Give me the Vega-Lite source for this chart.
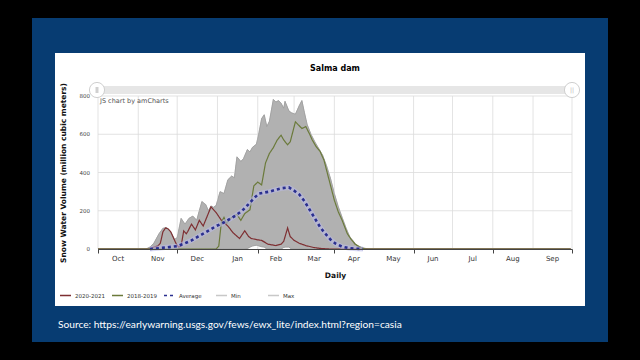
{
  "$schema": "https://vega.github.io/schema/vega-lite/v6.json",
  "width": 474,
  "height": 153,
  "autosize": {"type": "none"},
  "padding": {"left": 98, "top": 96, "right": 68, "bottom": 111},
  "background": "#000000",
  "title": {"text": "Salma dam", "fontSize": 8, "font": "DejaVu Sans", "fontWeight": "bold", "color": "#000000", "offset": -55, "anchor": "middle"},
  "config": {
    "view": {"stroke": null},
    "font": "DejaVu Sans",
    "legend": {
      "orient": "none", "legendX": -39, "legendY": 193, "direction": "horizontal",
      "symbolType": "stroke", "symbolSize": 121, "symbolStrokeWidth": 1.6,
      "labelFontSize": 5.5, "labelFont": "DejaVu Sans", "labelColor": "#333333",
      "gridAlign": "all", "columnPadding": 3, "labelOffset": 3
    }
  },
  "datasets": {
    "band": [
      {"date": "2020-10-01", "min": 0, "max": 0},
      {"date": "2020-11-07", "min": 0, "max": 0},
      {"date": "2020-11-10", "min": 0, "max": 10},
      {"date": "2020-11-13", "min": 0, "max": 30},
      {"date": "2020-11-17", "min": 0, "max": 80},
      {"date": "2020-11-20", "min": 0, "max": 108},
      {"date": "2020-11-23", "min": 0, "max": 112},
      {"date": "2020-11-26", "min": 0, "max": 90},
      {"date": "2020-11-29", "min": 0, "max": 50},
      {"date": "2020-12-01", "min": 0, "max": 60},
      {"date": "2020-12-04", "min": 0, "max": 160},
      {"date": "2020-12-07", "min": 0, "max": 130},
      {"date": "2020-12-10", "min": 0, "max": 160},
      {"date": "2020-12-13", "min": 0, "max": 172},
      {"date": "2020-12-16", "min": 0, "max": 150},
      {"date": "2020-12-18", "min": 0, "max": 200},
      {"date": "2020-12-20", "min": 0, "max": 248},
      {"date": "2020-12-23", "min": 0, "max": 232},
      {"date": "2020-12-25", "min": 0, "max": 200},
      {"date": "2020-12-27", "min": 0, "max": 225},
      {"date": "2020-12-29", "min": 0, "max": 218},
      {"date": "2020-12-31", "min": 0, "max": 228},
      {"date": "2021-01-03", "min": 0, "max": 300},
      {"date": "2021-01-06", "min": 0, "max": 290},
      {"date": "2021-01-09", "min": 0, "max": 362},
      {"date": "2021-01-12", "min": 0, "max": 382},
      {"date": "2021-01-14", "min": 0, "max": 372},
      {"date": "2021-01-16", "min": 0, "max": 482},
      {"date": "2021-01-19", "min": 0, "max": 458},
      {"date": "2021-01-21", "min": 0, "max": 472},
      {"date": "2021-01-24", "min": 2, "max": 520},
      {"date": "2021-01-26", "min": 10, "max": 508},
      {"date": "2021-01-28", "min": 16, "max": 532},
      {"date": "2021-01-31", "min": 20, "max": 548},
      {"date": "2021-02-02", "min": 16, "max": 610},
      {"date": "2021-02-04", "min": 12, "max": 682},
      {"date": "2021-02-06", "min": 10, "max": 702},
      {"date": "2021-02-08", "min": 0, "max": 640},
      {"date": "2021-02-10", "min": 0, "max": 668},
      {"date": "2021-02-13", "min": 0, "max": 782},
      {"date": "2021-02-15", "min": 0, "max": 768},
      {"date": "2021-02-17", "min": 0, "max": 776},
      {"date": "2021-02-19", "min": 0, "max": 762},
      {"date": "2021-02-21", "min": 8, "max": 736},
      {"date": "2021-02-22", "min": 10, "max": 772},
      {"date": "2021-02-25", "min": 10, "max": 722},
      {"date": "2021-02-27", "min": 0, "max": 712},
      {"date": "2021-03-02", "min": 0, "max": 705},
      {"date": "2021-03-05", "min": 0, "max": 750},
      {"date": "2021-03-07", "min": 0, "max": 776},
      {"date": "2021-03-09", "min": 0, "max": 712},
      {"date": "2021-03-11", "min": 0, "max": 652},
      {"date": "2021-03-14", "min": 0, "max": 600},
      {"date": "2021-03-17", "min": 0, "max": 560},
      {"date": "2021-03-20", "min": 0, "max": 525},
      {"date": "2021-03-23", "min": 0, "max": 490},
      {"date": "2021-03-26", "min": 0, "max": 435},
      {"date": "2021-03-29", "min": 0, "max": 370},
      {"date": "2021-04-01", "min": 0, "max": 290},
      {"date": "2021-04-04", "min": 0, "max": 222},
      {"date": "2021-04-07", "min": 0, "max": 165},
      {"date": "2021-04-10", "min": 0, "max": 110},
      {"date": "2021-04-13", "min": 0, "max": 62},
      {"date": "2021-04-16", "min": 0, "max": 38},
      {"date": "2021-04-19", "min": 0, "max": 15},
      {"date": "2021-04-23", "min": 0, "max": 6},
      {"date": "2021-04-27", "min": 0, "max": 0},
      {"date": "2021-09-30", "min": 0, "max": 0}
    ],
    "series": [
      {"series": "2020-2021", "date": "2020-10-01", "swe": 0},
      {"series": "2020-2021", "date": "2020-11-10", "swe": 0},
      {"series": "2020-2021", "date": "2020-11-13", "swe": 10},
      {"series": "2020-2021", "date": "2020-11-16", "swe": 15},
      {"series": "2020-2021", "date": "2020-11-18", "swe": 30},
      {"series": "2020-2021", "date": "2020-11-20", "swe": 90},
      {"series": "2020-2021", "date": "2020-11-22", "swe": 110},
      {"series": "2020-2021", "date": "2020-11-24", "swe": 105},
      {"series": "2020-2021", "date": "2020-11-26", "swe": 90},
      {"series": "2020-2021", "date": "2020-11-28", "swe": 60},
      {"series": "2020-2021", "date": "2020-11-30", "swe": 30},
      {"series": "2020-2021", "date": "2020-12-02", "swe": 10},
      {"series": "2020-2021", "date": "2020-12-04", "swe": 15},
      {"series": "2020-2021", "date": "2020-12-06", "swe": 95},
      {"series": "2020-2021", "date": "2020-12-08", "swe": 80},
      {"series": "2020-2021", "date": "2020-12-09", "swe": 90},
      {"series": "2020-2021", "date": "2020-12-12", "swe": 130},
      {"series": "2020-2021", "date": "2020-12-15", "swe": 100},
      {"series": "2020-2021", "date": "2020-12-18", "swe": 150},
      {"series": "2020-2021", "date": "2020-12-21", "swe": 120},
      {"series": "2020-2021", "date": "2020-12-24", "swe": 170},
      {"series": "2020-2021", "date": "2020-12-27", "swe": 220},
      {"series": "2020-2021", "date": "2020-12-31", "swe": 190},
      {"series": "2020-2021", "date": "2021-01-04", "swe": 150},
      {"series": "2020-2021", "date": "2021-01-09", "swe": 120},
      {"series": "2020-2021", "date": "2021-01-13", "swe": 85},
      {"series": "2020-2021", "date": "2021-01-18", "swe": 55},
      {"series": "2020-2021", "date": "2021-01-22", "swe": 95},
      {"series": "2020-2021", "date": "2021-01-25", "swe": 65},
      {"series": "2020-2021", "date": "2021-01-27", "swe": 55},
      {"series": "2020-2021", "date": "2021-02-01", "swe": 48},
      {"series": "2020-2021", "date": "2021-02-04", "swe": 45},
      {"series": "2020-2021", "date": "2021-02-09", "swe": 25},
      {"series": "2020-2021", "date": "2021-02-15", "swe": 18},
      {"series": "2020-2021", "date": "2021-02-19", "swe": 25},
      {"series": "2020-2021", "date": "2021-02-21", "swe": 40},
      {"series": "2020-2021", "date": "2021-02-24", "swe": 110},
      {"series": "2020-2021", "date": "2021-02-26", "swe": 65},
      {"series": "2020-2021", "date": "2021-03-01", "swe": 45},
      {"series": "2020-2021", "date": "2021-03-05", "swe": 30},
      {"series": "2020-2021", "date": "2021-03-10", "swe": 18},
      {"series": "2020-2021", "date": "2021-03-16", "swe": 8},
      {"series": "2020-2021", "date": "2021-03-21", "swe": 3},
      {"series": "2020-2021", "date": "2021-03-28", "swe": 0},
      {"series": "2020-2021", "date": "2021-09-30", "swe": 0},
      {"series": "2018-2019", "date": "2020-10-01", "swe": 0},
      {"series": "2018-2019", "date": "2020-12-31", "swe": 0},
      {"series": "2018-2019", "date": "2021-01-02", "swe": 15},
      {"series": "2018-2019", "date": "2021-01-04", "swe": 140},
      {"series": "2018-2019", "date": "2021-01-06", "swe": 165},
      {"series": "2018-2019", "date": "2021-01-08", "swe": 135},
      {"series": "2018-2019", "date": "2021-01-11", "swe": 160},
      {"series": "2018-2019", "date": "2021-01-14", "swe": 175},
      {"series": "2018-2019", "date": "2021-01-16", "swe": 180},
      {"series": "2018-2019", "date": "2021-01-19", "swe": 150},
      {"series": "2018-2019", "date": "2021-01-22", "swe": 185},
      {"series": "2018-2019", "date": "2021-01-26", "swe": 205},
      {"series": "2018-2019", "date": "2021-01-29", "swe": 330},
      {"series": "2018-2019", "date": "2021-02-01", "swe": 350},
      {"series": "2018-2019", "date": "2021-02-04", "swe": 335},
      {"series": "2018-2019", "date": "2021-02-07", "swe": 450},
      {"series": "2018-2019", "date": "2021-02-10", "swe": 500},
      {"series": "2018-2019", "date": "2021-02-13", "swe": 530},
      {"series": "2018-2019", "date": "2021-02-16", "swe": 570},
      {"series": "2018-2019", "date": "2021-02-19", "swe": 595},
      {"series": "2018-2019", "date": "2021-02-21", "swe": 570},
      {"series": "2018-2019", "date": "2021-02-24", "swe": 545},
      {"series": "2018-2019", "date": "2021-02-26", "swe": 560},
      {"series": "2018-2019", "date": "2021-03-02", "swe": 665},
      {"series": "2018-2019", "date": "2021-03-07", "swe": 630},
      {"series": "2018-2019", "date": "2021-03-10", "swe": 640},
      {"series": "2018-2019", "date": "2021-03-13", "swe": 600},
      {"series": "2018-2019", "date": "2021-03-15", "swe": 570},
      {"series": "2018-2019", "date": "2021-03-18", "swe": 535},
      {"series": "2018-2019", "date": "2021-03-21", "swe": 510},
      {"series": "2018-2019", "date": "2021-03-24", "swe": 465},
      {"series": "2018-2019", "date": "2021-03-28", "swe": 360},
      {"series": "2018-2019", "date": "2021-04-01", "swe": 255},
      {"series": "2018-2019", "date": "2021-04-04", "swe": 195},
      {"series": "2018-2019", "date": "2021-04-07", "swe": 150},
      {"series": "2018-2019", "date": "2021-04-11", "swe": 80},
      {"series": "2018-2019", "date": "2021-04-14", "swe": 50},
      {"series": "2018-2019", "date": "2021-04-17", "swe": 25},
      {"series": "2018-2019", "date": "2021-04-22", "swe": 5},
      {"series": "2018-2019", "date": "2021-04-25", "swe": 0},
      {"series": "2018-2019", "date": "2021-09-30", "swe": 0},
      {"series": "Average", "date": "2020-11-10", "swe": 0},
      {"series": "Average", "date": "2020-11-18", "swe": 5},
      {"series": "Average", "date": "2020-11-25", "swe": 10},
      {"series": "Average", "date": "2020-12-01", "swe": 15},
      {"series": "Average", "date": "2020-12-07", "swe": 30},
      {"series": "Average", "date": "2020-12-12", "swe": 45},
      {"series": "Average", "date": "2020-12-17", "swe": 65},
      {"series": "Average", "date": "2020-12-21", "swe": 80},
      {"series": "Average", "date": "2020-12-26", "swe": 100},
      {"series": "Average", "date": "2020-12-31", "swe": 120},
      {"series": "Average", "date": "2021-01-05", "swe": 135},
      {"series": "Average", "date": "2021-01-10", "swe": 155},
      {"series": "Average", "date": "2021-01-15", "swe": 175},
      {"series": "Average", "date": "2021-01-20", "swe": 200},
      {"series": "Average", "date": "2021-01-25", "swe": 235},
      {"series": "Average", "date": "2021-01-29", "swe": 265},
      {"series": "Average", "date": "2021-02-02", "swe": 290},
      {"series": "Average", "date": "2021-02-06", "swe": 295},
      {"series": "Average", "date": "2021-02-10", "swe": 300},
      {"series": "Average", "date": "2021-02-15", "swe": 310},
      {"series": "Average", "date": "2021-02-20", "swe": 318},
      {"series": "Average", "date": "2021-02-25", "swe": 322},
      {"series": "Average", "date": "2021-03-01", "swe": 305},
      {"series": "Average", "date": "2021-03-05", "swe": 285},
      {"series": "Average", "date": "2021-03-09", "swe": 250},
      {"series": "Average", "date": "2021-03-13", "swe": 205},
      {"series": "Average", "date": "2021-03-17", "swe": 160},
      {"series": "Average", "date": "2021-03-21", "swe": 115},
      {"series": "Average", "date": "2021-03-25", "swe": 80},
      {"series": "Average", "date": "2021-03-29", "swe": 50},
      {"series": "Average", "date": "2021-04-02", "swe": 28},
      {"series": "Average", "date": "2021-04-07", "swe": 12},
      {"series": "Average", "date": "2021-04-12", "swe": 5},
      {"series": "Average", "date": "2021-04-18", "swe": 1},
      {"series": "Average", "date": "2021-04-23", "swe": 0}
    ],
    "months": [
      {"start": "2020-10-01", "mid": "2020-10-16T12:00:00Z", "label": "Oct"},
      {"start": "2020-11-01", "mid": "2020-11-16T00:00:00Z", "label": "Nov"},
      {"start": "2020-12-01", "mid": "2020-12-16T12:00:00Z", "label": "Dec"},
      {"start": "2021-01-01", "mid": "2021-01-16T12:00:00Z", "label": "Jan"},
      {"start": "2021-02-01", "mid": "2021-02-15T00:00:00Z", "label": "Feb"},
      {"start": "2021-03-01", "mid": "2021-03-16T12:00:00Z", "label": "Mar"},
      {"start": "2021-04-01", "mid": "2021-04-16T00:00:00Z", "label": "Apr"},
      {"start": "2021-05-01", "mid": "2021-05-16T12:00:00Z", "label": "May"},
      {"start": "2021-06-01", "mid": "2021-06-16T00:00:00Z", "label": "Jun"},
      {"start": "2021-07-01", "mid": "2021-07-16T12:00:00Z", "label": "Jul"},
      {"start": "2021-08-01", "mid": "2021-08-16T12:00:00Z", "label": "Aug"},
      {"start": "2021-09-01", "mid": "2021-09-16T00:00:00Z", "label": "Sep"}
    ],
    "levels": [{"level": 0}, {"level": 200}, {"level": 400}, {"level": 600}, {"level": 800}]
  },
  "layer": [
    {
      "description": "slide panel",
      "data": {"values": [{}]},
      "mark": {"type": "rect", "x": -66, "x2": 510, "y": -78, "y2": 246, "fill": "#073c72", "clip": false},
      "encoding": {}
    },
    {
      "description": "chart card",
      "data": {"values": [{}]},
      "mark": {"type": "rect", "x": -43, "x2": 487, "y": -43, "y2": 210, "fill": "#ffffff", "clip": false},
      "encoding": {}
    },
    {
      "description": "scrollbar track",
      "data": {"values": [{}]},
      "mark": {"type": "rect", "x": -1, "x2": 475, "y": -10, "y2": -2, "fill": "#e6e6e6", "clip": false},
      "encoding": {}
    },
    {
      "data": {"name": "band"},
      "mark": {"type": "area", "fill": "#b1b1b1", "stroke": "#9a9a9a", "strokeWidth": 0.6},
      "encoding": {
        "x": {
          "field": "date", "type": "temporal",
          "scale": {"type": "utc", "domain": [{"year": 2020, "month": 10, "date": 1, "utc": true}, {"year": 2021, "month": 10, "date": 1, "utc": true}]},
          "axis": {
            "values": [
              {"year": 2020, "month": 10, "date": 1, "utc": true}, {"year": 2020, "month": 11, "date": 1, "utc": true},
              {"year": 2020, "month": 12, "date": 1, "utc": true}, {"year": 2021, "month": 1, "date": 1, "utc": true},
              {"year": 2021, "month": 2, "date": 1, "utc": true}, {"year": 2021, "month": 3, "date": 1, "utc": true},
              {"year": 2021, "month": 4, "date": 1, "utc": true}, {"year": 2021, "month": 5, "date": 1, "utc": true},
              {"year": 2021, "month": 6, "date": 1, "utc": true}, {"year": 2021, "month": 7, "date": 1, "utc": true},
              {"year": 2021, "month": 8, "date": 1, "utc": true}, {"year": 2021, "month": 9, "date": 1, "utc": true},
              {"year": 2021, "month": 10, "date": 1, "utc": true}
            ],
            "labels": false,
            "tickSize": 4, "tickColor": "#444444", "domainColor": "#444444", "domainWidth": 1.2,
            "grid": false, "title": "Daily", "titleFontSize": 7.5, "titleFontWeight": "bold",
            "titleColor": "#111111", "titlePadding": 18, "zindex": 2
          }
        },
        "y": {
          "field": "max", "type": "quantitative",
          "scale": {"domain": [0, 800], "nice": false},
          "axis": {
            "values": [0, 200, 400, 600, 800],
            "labels": false, "domain": false, "ticks": false, "grid": false,
            "title": "Snow Water Volume (million cubic meters)", "titleFontSize": 7.5,
            "titleFontWeight": "bold", "titleColor": "#111111", "titlePadding": 31, "zindex": 2
          }
        },
        "y2": {"field": "min"}
      }
    },
    {
      "data": {"name": "months"},
      "mark": {"type": "rule", "stroke": "#dcdcdc", "strokeWidth": 0.8},
      "encoding": {"x": {"field": "start", "type": "temporal"}}
    },
    {
      "data": {"values": [{"end": "2021-10-01"}]},
      "mark": {"type": "rule", "stroke": "#dcdcdc", "strokeWidth": 0.8},
      "encoding": {"x": {"field": "end", "type": "temporal"}}
    },
    {
      "data": {"name": "levels"},
      "transform": [{"filter": "datum.level > 0"}],
      "mark": {"type": "rule", "stroke": "#dcdcdc", "strokeWidth": 0.8},
      "encoding": {"y": {"field": "level", "type": "quantitative"}}
    },
    {
      "data": {"name": "band"},
      "mark": {"type": "area", "fill": "#b1b1b1", "stroke": "#9a9a9a", "strokeWidth": 0.6},
      "encoding": {
        "x": {"field": "date", "type": "temporal"},
        "y": {"field": "max", "type": "quantitative"},
        "y2": {"field": "min"}
      }
    },
    {
      "data": {"name": "series"},
      "transform": [{"filter": "datum.series !== 'Average'"}],
      "mark": {"type": "line", "strokeWidth": 1.2},
      "encoding": {
        "x": {"field": "date", "type": "temporal"},
        "y": {"field": "swe", "type": "quantitative"},
        "color": {
          "field": "series", "type": "nominal",
          "scale": {"domain": ["2020-2021", "2018-2019", "Average", "Min", "Max"], "range": ["#7e2f32", "#6b7a3b", "#2a2f8f", "#c8c8c8", "#c8c8c8"]},
          "legend": {"title": null}
        },
        "strokeDash": {
          "field": "series", "type": "nominal",
          "scale": {"domain": ["2020-2021", "2018-2019", "Average", "Min", "Max"], "range": [[1, 0], [1, 0], [3, 3], [1, 0], [1, 0]]},
          "legend": {"title": null}
        }
      }
    },
    {
      "data": {"name": "series"},
      "transform": [{"filter": "datum.series === 'Average'"}],
      "mark": {"type": "line", "stroke": "#b9b9ea", "strokeWidth": 5, "opacity": 0.55},
      "encoding": {
        "x": {"field": "date", "type": "temporal"},
        "y": {"field": "swe", "type": "quantitative"}
      }
    },
    {
      "data": {"name": "series"},
      "transform": [{"filter": "datum.series === 'Average'"}],
      "mark": {"type": "line", "strokeWidth": 2.6},
      "encoding": {
        "x": {"field": "date", "type": "temporal"},
        "y": {"field": "swe", "type": "quantitative"},
        "color": {"field": "series", "type": "nominal", "legend": {"title": null}},
        "strokeDash": {"field": "series", "type": "nominal", "legend": {"title": null}}
      }
    },
    {
      "description": "month names under the axis",
      "data": {"name": "months"},
      "mark": {"type": "text", "y": "height", "dy": 10, "fontSize": 7, "fill": "#333333", "align": "center", "baseline": "middle", "clip": false},
      "encoding": {
        "x": {"field": "mid", "type": "temporal"},
        "text": {"field": "label"}
      }
    },
    {
      "description": "volume tick labels",
      "data": {"name": "levels"},
      "mark": {"type": "text", "x": 0, "dx": -8, "fontSize": 5.5, "fill": "#444444", "align": "right", "baseline": "middle", "clip": false},
      "encoding": {
        "y": {"field": "level", "type": "quantitative"},
        "text": {"field": "level", "type": "quantitative"}
      }
    },
    {
      "description": "scrollbar grips",
      "data": {"values": [{}]},
      "mark": {"type": "point", "shape": "circle", "x": -1, "y": -6, "size": 230, "filled": true, "fill": "#ffffff", "stroke": "#cfcfcf", "strokeWidth": 1, "opacity": 1, "clip": false},
      "encoding": {}
    },
    {
      "data": {"values": [{}]},
      "mark": {"type": "point", "shape": "circle", "x": 474, "y": -6, "size": 230, "filled": true, "fill": "#ffffff", "stroke": "#cfcfcf", "strokeWidth": 1, "opacity": 1, "clip": false},
      "encoding": {}
    },
    {
      "data": {"values": [{}]},
      "mark": {"type": "rect", "x": -2.5, "x2": 0.5, "y": -9, "y2": -3, "fill": "#d0d0d0", "clip": false},
      "encoding": {}
    },
    {
      "data": {"values": [{}]},
      "mark": {"type": "text", "text": "||", "x": 474, "y": -6, "align": "center", "baseline": "middle", "fontSize": 6, "fill": "#b5b5b5", "clip": false},
      "encoding": {}
    },
    {
      "data": {"values": [{}]},
      "mark": {"type": "text", "text": "JS chart by amCharts", "x": 2, "y": 5, "align": "left", "baseline": "middle", "fontSize": 6.5, "fill": "#555555"},
      "encoding": {}
    },
    {
      "data": {"values": [{}]},
      "mark": {"type": "text", "text": "Source: https://earlywarning.usgs.gov/fews/ewx_lite/index.html?region=casia", "x": -40, "y": 229, "align": "left", "baseline": "middle", "font": "Lato", "fontSize": 10.2, "fill": "#ffffff", "clip": false},
      "encoding": {}
    }
  ]
}
